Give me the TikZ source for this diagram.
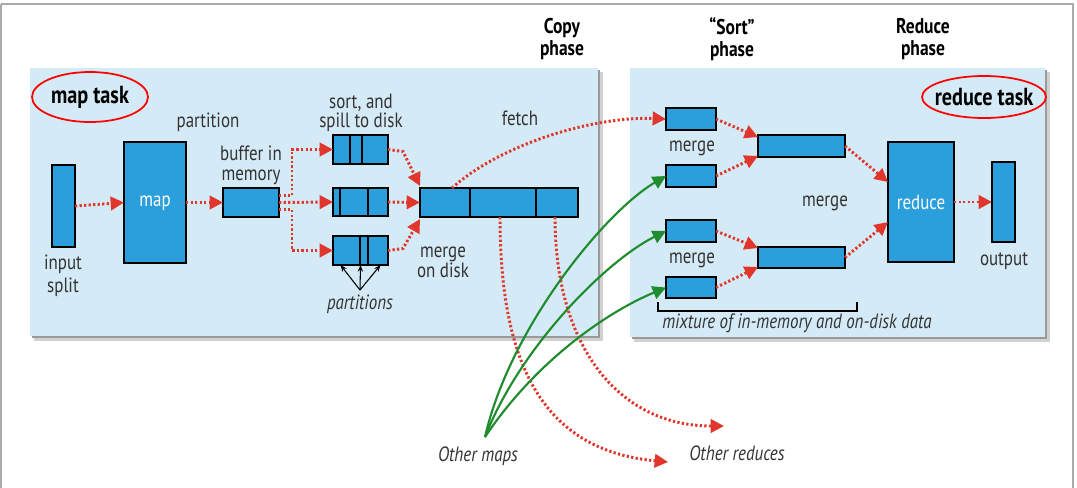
\documentclass[tikz,border=0pt]{standalone}
\usepackage{fontspec}
\setmainfont{PT Sans}[FakeStretch=0.82]
\usetikzlibrary{arrows.meta,calc}
\definecolor{panel}{HTML}{D4EAF6}
\definecolor{boxblue}{HTML}{2A9FDB}
\definecolor{dotred}{HTML}{E0362C}
\definecolor{arrgreen}{HTML}{1F8C2F}
\definecolor{txt}{HTML}{333333}
\definecolor{frame}{HTML}{AAAAAA}
\begin{document}
\begin{tikzpicture}[x=0.75pt,y=-0.75pt,
  box/.style={draw=black, line width=1.6pt, fill=boxblue, inner sep=0pt, outer sep=0pt},
  divider/.style={draw=black, line width=1.6pt},
  reddot/.style={draw=dotred, line width=2.2pt, dash pattern=on 1.7pt off 1.7pt,
     -{Triangle[length=10pt,width=10pt,fill=dotred]}},
  greenarr/.style={draw=arrgreen, line width=1.6pt, -{Triangle[length=10pt,width=10pt,fill=arrgreen]}},
  blackarr/.style={draw=black, line width=0.8pt, -{Stealth[length=5pt,width=4pt]}},
  lbl/.style={font=\fontsize{15.5}{14}\selectfont, text=txt, align=center, inner sep=0pt},
  ilbl/.style={font=\fontsize{15.5}{14}\selectfont\itshape, text=txt, align=center, inner sep=0pt},
  blbl/.style={font=\fontsize{16}{16.5}\selectfont\bfseries, text=black, align=center, inner sep=0pt},
  tlbl/.style={font=\fontsize{18.5}{18}\selectfont\bfseries, text=black, inner sep=0pt},
  wlbl/.style={font=\fontsize{15.5}{15}\selectfont, text=white, inner sep=0pt},
  ring/.style={draw=red, line width=1.3pt},
  panelshadow/.style={fill=black!40},
  panelfill/.style={fill=panel}
]
\useasboundingbox (0,0) rectangle (1077,487);
\fill[white] (0,0) rectangle (1077,487);
\draw[frame, line width=1pt] (1,4) -- (1073,4) -- (1073,490);
\draw[frame, line width=1pt] (1,4) -- (1,490);

% panels
\fill[black!18] (34,72) rectangle (603,341);
\fill[panelshadow] (32,70) rectangle (600,338);
\fill[panelfill] (30,68) rectangle (598,336);
\fill[black!18] (634,72) rectangle (1050,342);
\fill[panelshadow] (632,70) rectangle (1047,339);
\fill[panelfill] (630,68) rectangle (1045,337);

% phase headings
\node[blbl] (copyph) at (562,39) {Copy\\phase};
\node[blbl] (sortph) at (732,39) {“Sort”\\phase};
\node[blbl] (redph) at (923,39) {Reduce\\phase};

% task titles
\node[tlbl] (maptask) at (90,97) {map task};
\draw[ring] (maptask) ellipse [x radius=58, y radius=25];
\node[tlbl] (redtask) at (984,97) {reduce task};
\draw[ring] (redtask) ellipse [x radius=62, y radius=21];

% map side boxes
\node[box, minimum width=23*0.75pt, minimum height=82*0.75pt] (insplit) at (63.5,206) {};
\node[box, minimum width=62*0.75pt, minimum height=121*0.75pt] (mapbox) at (155,202.5) {};
\node[wlbl] (maplbl) at (155,203) {map};
\node[box, minimum width=56*0.75pt, minimum height=29*0.75pt] (buf) at (251,202.5) {};
\node[box, minimum width=55*0.75pt, minimum height=29*0.75pt] (sp1) at (360.5,149.5) {};
\node[box, minimum width=55*0.75pt, minimum height=28*0.75pt] (sp2) at (360.5,202) {};
\node[box, minimum width=55*0.75pt, minimum height=29*0.75pt] (sp3) at (360.5,250.5) {};
\node[box, minimum width=158*0.75pt, minimum height=29*0.75pt] (disk) at (499,202.5) {};
\draw[divider] (350,135) -- (350,164);
\draw[divider] (362,135) -- (362,164);
\draw[divider] (340,188) -- (340,216);
\draw[divider] (368,188) -- (368,216);
\draw[divider] (360,236) -- (360,265);
\draw[divider] (368,236) -- (368,265);
\draw[divider] (470,188) -- (470,217);
\draw[divider] (536,188) -- (536,217);

% map side labels
\node[lbl] (insplitlbl) at (63,276) {input\\[2pt]split};
\node[lbl] (partlbl) at (208,122) {partition};
\node[lbl, font=\fontsize{15.5}{15}\selectfont] (buflbl) at (251,165) {buffer in\\memory};
\node[lbl, font=\fontsize{15.5}{12.5}\selectfont] (spilllbl) at (361,113) {sort, and\\spill to disk};
\node[lbl] (mergedisk) at (443,262) {merge\\on disk};
\node[lbl] (fetchlbl) at (520,118) {fetch};
\node[ilbl] (partslbl) at (360,304) {partitions};
\coordinate (partsrc) at (360,290);

% map side connectors
\draw[reddot] (insplit.east) -- (mapbox.west);
\draw[reddot] (mapbox.east) -- (buf.west);
\draw[reddot] ($(buf.east)+(0,-7)$) -| ($(sp1.west)+(-41,0)$) -- (sp1.west);
\draw[reddot] (buf.east) -- (sp2.west);
\draw[reddot] ($(buf.east)+(0,7)$) -| ($(sp3.west)+(-41,0)$) -- (sp3.west);
\draw[reddot] (sp1.east) -- ($(sp1.east)+(15,2)$) -- ($(disk.north west)+(0,-2)$);
\draw[reddot] (sp2.east) -- (disk.west);
\draw[reddot] (sp3.east) -- ($(sp3.east)+(15,-2)$) -- ($(disk.south west)+(0,2)$);
\draw[blackarr] (partsrc) -- ($(sp3.south)+(-20,0)$);
\draw[blackarr] (partsrc) -- (sp3.south);
\draw[blackarr] (partsrc) -- ($(sp3.south)+(20,0)$);

% reduce side boxes
\node[box, minimum width=50*0.75pt, minimum height=22*0.75pt] (r1) at (691,119) {};
\node[box, minimum width=50*0.75pt, minimum height=22*0.75pt] (r2) at (691,176) {};
\node[box, minimum width=50*0.75pt, minimum height=22*0.75pt] (r3) at (691,231) {};
\node[box, minimum width=50*0.75pt, minimum height=21*0.75pt] (r4) at (691,287.5) {};
\node[box, minimum width=87*0.75pt, minimum height=22*0.75pt] (m1) at (801.5,146) {};
\node[box, minimum width=87*0.75pt, minimum height=21*0.75pt] (m2) at (801.5,257.5) {};
\node[box, minimum width=66*0.75pt, minimum height=120*0.75pt] (red) at (921,202) {};
\node[wlbl] (redlbl) at (921,202) {reduce};
\node[box, minimum width=23*0.75pt, minimum height=80*0.75pt] (out) at (1003.5,202) {};

% reduce side labels
\node[lbl] (merge1) at (692,148) {merge};
\node[lbl] (merge2) at (692,260) {merge};
\node[lbl] (merge3) at (825,203) {merge};
\node[lbl] (outlbl) at (1004,261) {output};
\node[ilbl] (mixlbl) at (797,323) {mixture of in-memory and on-disk data};
\draw[black, line width=0.9pt] (658,302) -- (658,311) -- (857,311) -- (857,302);

% reduce side connectors
\draw[reddot] (r1.east) -- ($(m1.north west)+(0,2)$);
\draw[reddot] (r2.east) -- ($(m1.south west)+(0,-1)$);
\draw[reddot] (r3.east) -- ($(m2.north west)+(0,1)$);
\draw[reddot] (r4.east) -- ($(m2.south west)+(0,-1)$);
\draw[reddot] (m1.east) -- ($(red.west)+(0,-20)$);
\draw[reddot] (m2.east) -- ($(red.west)+(0,20)$);
\draw[reddot] (red.east) -- (out.west);

% fetch
\draw[reddot] ($(disk.north west)+(32,0)$) .. controls +(50,-45) and +(-70,-3) .. (r1.west);

% other maps / reduces
\node[ilbl] (othermaps) at (478,456) {Other maps};
\node[ilbl] (otherreds) at (737,453) {Other reduces};
\coordinate (omsrc) at (485,437);
\coordinate (orA) at (668,462);
\coordinate (orB) at (724,426);
\draw[reddot] ($(disk.south west)+(80,0)$) .. controls +(0,143) and +(-128,-12) .. (orA);
\draw[reddot] ($(disk.south west)+(135,0)$) .. controls +(0,130) and +(-105,0) .. (orB);
\draw[greenarr] (omsrc) .. controls +(25,-110) and +(-60,35) .. (r2.west);
\draw[greenarr] (omsrc) .. controls +(35,-90) and +(-60,30) .. (r3.west);
\draw[greenarr] (omsrc) .. controls +(50,-75) and +(-60,25) .. (r4.west);
\end{tikzpicture}
\end{document}
